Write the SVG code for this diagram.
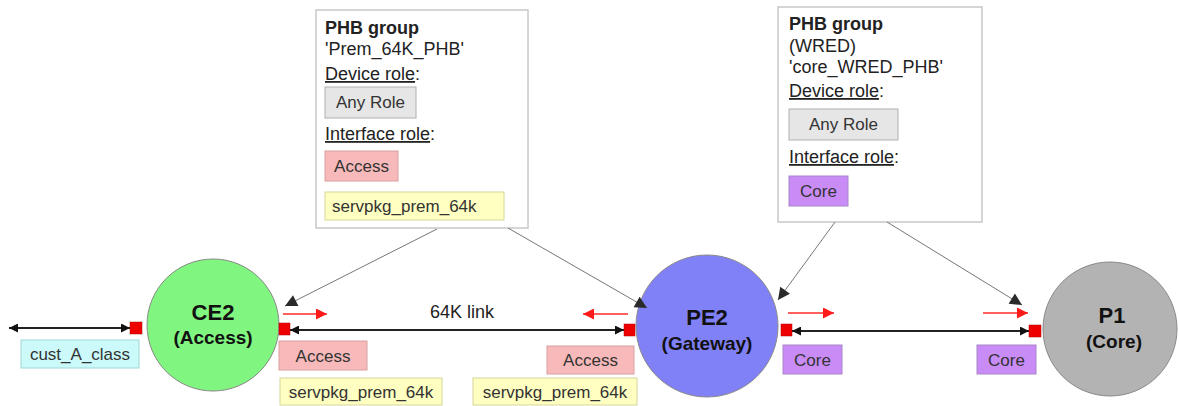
<svg xmlns="http://www.w3.org/2000/svg" width="1179" height="406" viewBox="0 0 1179 406">
  <style>
    text { font-family: "Liberation Sans", Arial, sans-serif; fill: #222; }
    .hd { font-size: 18px; font-weight: bold; }
    .tx { font-size: 18px; }
    .lb { font-size: 17px; fill: #333; }
    .mid { text-anchor: middle; }
    .ul { text-decoration: underline; }
    .nm { font-weight: bold; text-anchor: middle; fill: #111; }
    .phb { fill: #fff; stroke: #c8c8c8; stroke-width: 1.5; }
    .anyrole { fill: #e6e6e6; stroke: #b0b0b0; }
    .access { fill: #f7b9b9; stroke: #d9a0a0; }
    .pkg { fill: #ffffc2; stroke: #d6d69a; }
    .core { fill: #c98cf7; stroke: #a985c9; }
    .cust { fill: #ccfafa; stroke: #9fd6d6; }
    .port { fill: #ee0000; stroke: #b00000; stroke-width: 0.5; }
    .link { stroke: #222; stroke-width: 1.8; fill: none; }
    .dir { stroke: #ff2a2a; stroke-width: 1.5; fill: none; }
    .ref { stroke: #777; stroke-width: 1; fill: none; }
  </style>
  <defs>
    <marker id="blk" viewBox="0 0 10 10" refX="10" refY="5" markerWidth="11" markerHeight="9" markerUnits="userSpaceOnUse" orient="auto-start-reverse">
      <path d="M0,0L10,5L0,10z" fill="#111"/>
    </marker>
    <marker id="red" viewBox="0 0 10 10" refX="10" refY="5" markerWidth="13" markerHeight="11" markerUnits="userSpaceOnUse" orient="auto">
      <path d="M0,0L10,5L0,10z" fill="#ff1a1a"/>
    </marker>
    <marker id="gry" viewBox="0 0 10 10" refX="10" refY="5" markerWidth="17" markerHeight="12" markerUnits="userSpaceOnUse" orient="auto">
      <path d="M0,0L10,5L0,10z" fill="#2a2a2a"/>
    </marker>
  </defs>

  <!-- PHB group: Prem_64K_PHB -->
  <g id="phb-prem">
    <rect class="phb" x="316" y="10" width="212" height="218"/>
    <text class="hd" x="325" y="34">PHB group</text>
    <text class="tx" x="325" y="55">'Prem_64K_PHB'</text>
    <text class="tx" x="325" y="80"><tspan class="ul">Device role</tspan>:</text>
    <rect class="anyrole" x="325" y="87" width="91" height="31"/>
    <text class="lb mid" x="370.5" y="108">Any Role</text>
    <text class="tx" x="325" y="140"><tspan class="ul">Interface role</tspan>:</text>
    <rect class="access" x="325" y="151" width="73" height="30"/>
    <text class="lb mid" x="361.5" y="172">Access</text>
    <rect class="pkg" x="325" y="192" width="179" height="28"/>
    <text class="lb" x="332" y="212">servpkg_prem_64k</text>
  </g>

  <!-- PHB group: core_WRED_PHB -->
  <g id="phb-core">
    <rect class="phb" x="778" y="7" width="204" height="215"/>
    <text class="hd" x="789" y="30">PHB group</text>
    <text class="tx" x="789" y="52">(WRED)</text>
    <text class="tx" x="789" y="73">'core_WRED_PHB'</text>
    <text class="tx" x="789" y="97"><tspan class="ul">Device role</tspan>:</text>
    <rect class="anyrole" x="789" y="109" width="109" height="31"/>
    <text class="lb mid" x="843.5" y="130">Any Role</text>
    <text class="tx" x="789" y="163"><tspan class="ul">Interface role</tspan>:</text>
    <rect class="core" x="789" y="176" width="59" height="30"/>
    <text class="lb mid" x="818.5" y="197">Core</text>
  </g>

  <!-- Devices -->
  <g id="ce2">
    <circle cx="213" cy="325" r="66" fill="#80f57f" stroke="#8a8a8a"/>
    <text class="nm" x="213" y="320" font-size="22">CE2</text>
    <text class="nm" x="213" y="344" font-size="19">(Access)</text>
  </g>
  <g id="pe2">
    <circle cx="707" cy="326" r="71" fill="#8080f7" stroke="#8a8a8a"/>
    <text class="nm" x="707" y="325" font-size="22">PE2</text>
    <text class="nm" x="707" y="350" font-size="19">(Gateway)</text>
  </g>
  <g id="p1">
    <circle cx="1110" cy="329" r="67" fill="#b3b3b3" stroke="#8a8a8a"/>
    <text class="nm" x="1112" y="323" font-size="22">P1</text>
    <text class="nm" x="1114" y="348" font-size="19">(Core)</text>
  </g>

  <!-- Interface labels -->
  <g id="if-cust">
    <rect class="cust" x="21" y="340" width="118" height="28"/>
    <text class="lb mid" x="80" y="360">cust_A_class</text>
  </g>
  <g id="if-ce2">
    <rect class="access" x="279" y="341" width="88" height="29"/>
    <text class="lb mid" x="323" y="362">Access</text>
    <rect class="pkg" x="280" y="378" width="162" height="27"/>
    <text class="lb mid" x="361" y="398">servpkg_prem_64k</text>
  </g>
  <g id="if-pe2-access">
    <rect class="access" x="547" y="346" width="87" height="28"/>
    <text class="lb mid" x="590.5" y="366">Access</text>
    <rect class="pkg" x="473" y="378" width="164" height="27"/>
    <text class="lb mid" x="555" y="398">servpkg_prem_64k</text>
  </g>
  <g id="if-pe2-core">
    <rect class="core" x="783" y="345" width="59" height="29"/>
    <text class="lb mid" x="812.5" y="366">Core</text>
  </g>
  <g id="if-p1">
    <rect class="core" x="977" y="345" width="59" height="29"/>
    <text class="lb mid" x="1006.5" y="366">Core</text>
  </g>

  <!-- Connectors -->
  <g id="connectors">
    <line class="link" x1="9" y1="328" x2="130" y2="328" marker-start="url(#blk)" marker-end="url(#blk)"/>
    <line class="link" x1="290" y1="330" x2="624" y2="330" marker-start="url(#blk)" marker-end="url(#blk)"/>
    <line class="link" x1="792" y1="331" x2="1029" y2="331" marker-start="url(#blk)" marker-end="url(#blk)"/>
    <text class="tx mid" x="462" y="318">64K link</text>

    <line class="dir" x1="283" y1="314" x2="327" y2="314" marker-end="url(#red)"/>
    <line class="dir" x1="628" y1="314" x2="583" y2="314" marker-end="url(#red)"/>
    <line class="dir" x1="788" y1="313" x2="834" y2="313" marker-end="url(#red)"/>
    <line class="dir" x1="983" y1="313" x2="1028" y2="313" marker-end="url(#red)"/>

    <line class="ref" x1="437" y1="229" x2="285" y2="306" marker-end="url(#gry)"/>
    <line class="ref" x1="508" y1="228" x2="647" y2="308" marker-end="url(#gry)"/>
    <line class="ref" x1="835" y1="222" x2="778" y2="300" marker-end="url(#gry)"/>
    <line class="ref" x1="887" y1="222" x2="1022" y2="305" marker-end="url(#gry)"/>

    <rect class="port" x="130" y="322" width="12" height="12"/>
    <rect class="port" x="279" y="323" width="11" height="12"/>
    <rect class="port" x="624" y="324" width="11" height="12"/>
    <rect class="port" x="781" y="324" width="11" height="12"/>
    <rect class="port" x="1029" y="325" width="12" height="12"/>
  </g>
</svg>
